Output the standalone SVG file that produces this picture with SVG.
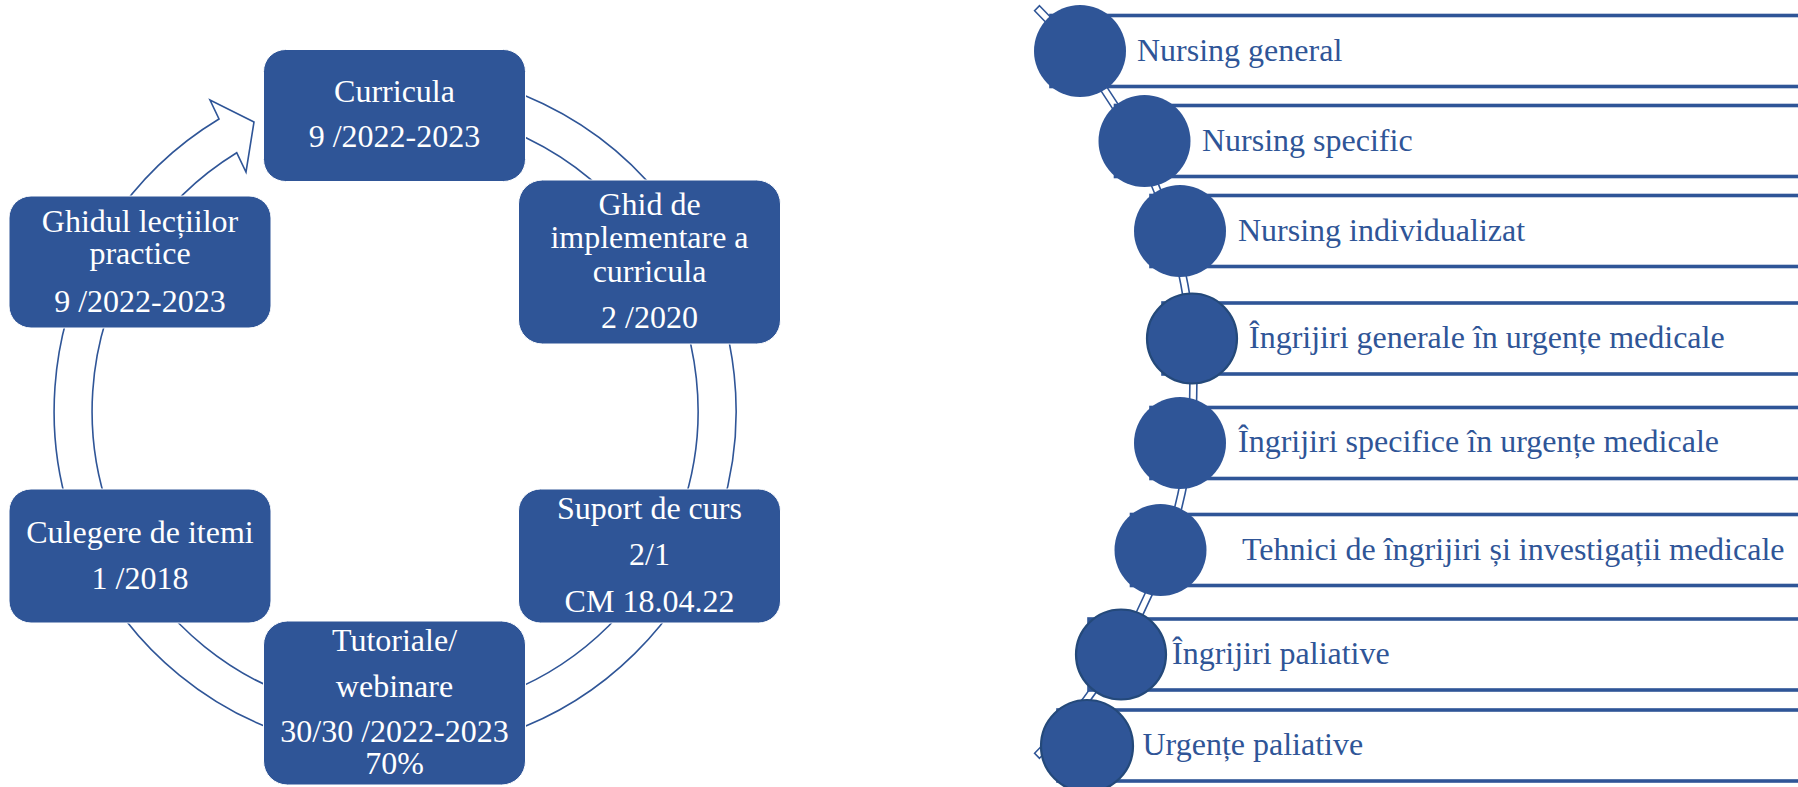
<svg xmlns="http://www.w3.org/2000/svg" width="1798" height="787" viewBox="0 0 1798 787">
<style>
.box{fill:#2F5597;stroke:#ffffff;stroke-width:1}
.bt{font-family:"Liberation Serif","Times New Roman",serif;font-size:32px;fill:#ffffff;text-anchor:middle}
.ring{fill:#ffffff;stroke:#2F5597;stroke-width:1.6}
.bar{fill:#ffffff;stroke:#2F5597;stroke-width:3.6}
.dot{fill:#2F5597}
.dot2{fill:#2F5597;stroke:#24497A;stroke-width:2.2}
.lt{font-family:"Liberation Serif","Times New Roman",serif;font-size:32px;fill:#2F5597}
</style>
<rect width="1798" height="787" fill="#ffffff"/>

<g id="connectors">
  <path id="cycle-arrow" class="ring" d="M 395,70 A 341 341 0 1 1 219,119 L 210,100 L 254,122 L 246,172 L 236.7,152.7 A 303 303 0 1 0 395,108 Z"/>
  <path id="list-arc" class="ring" d="M 1039.5,5.7 A 528.5 528.5 0 0 1 1039.5,758.3 L 1034.6,753.3 A 521.5 521.5 0 0 0 1034.6,10.7 Z"/>
</g>

<g id="curricula">
  <rect class="box" x="263.5" y="49.5" width="262" height="132" rx="22"/>
  <text class="bt" x="394.5" y="102">Curricula</text>
  <text class="bt" x="394.5" y="147">9 /2022-2023</text>
</g>
<g id="ghid-implementare">
  <rect class="box" x="518.5" y="180" width="262" height="164" rx="24"/>
  <text class="bt" x="649.5" y="215">Ghid de</text>
  <text class="bt" x="649.5" y="248">implementare a</text>
  <text class="bt" x="649.5" y="282">curricula</text>
  <text class="bt" x="649.5" y="328">2 /2020</text>
</g>
<g id="suport-curs">
  <rect class="box" x="518.5" y="489" width="262" height="134" rx="22"/>
  <text class="bt" x="649.5" y="519">Suport de curs</text>
  <text class="bt" x="649.5" y="565">2/1</text>
  <text class="bt" x="649.5" y="612">CM 18.04.22</text>
</g>
<g id="tutoriale">
  <rect class="box" x="263.5" y="621" width="262" height="164" rx="24"/>
  <text class="bt" x="394.5" y="651">Tutoriale/</text>
  <text class="bt" x="394.5" y="697">webinare</text>
  <text class="bt" x="394.5" y="742">30/30 /2022-2023</text>
  <text class="bt" x="394.5" y="774">70%</text>
</g>
<g id="culegere">
  <rect class="box" x="9" y="489" width="262" height="134" rx="22"/>
  <text class="bt" x="140" y="543">Culegere de itemi</text>
  <text class="bt" x="140" y="589">1 /2018</text>
</g>
<g id="ghidul-lectiilor">
  <rect class="box" x="9" y="196" width="262" height="132" rx="22"/>
  <text class="bt" x="140" y="232">Ghidul lecțiilor</text>
  <text class="bt" x="140" y="264">practice</text>
  <text class="bt" x="140" y="312">9 /2022-2023</text>
</g>

<g id="item-nursing-general">
  <rect class="bar" x="1051" y="15.5" width="760" height="71"/>
  <circle class="dot" cx="1080" cy="51" r="46"/>
  <text class="lt" x="1137" y="61">Nursing general</text>
</g>
<g id="item-nursing-specific">
  <rect class="bar" x="1115.5" y="105.5" width="700" height="71"/>
  <circle class="dot" cx="1144.5" cy="141" r="46"/>
  <text class="lt" x="1202" y="151">Nursing specific</text>
</g>
<g id="item-nursing-individualizat">
  <rect class="bar" x="1151" y="195.5" width="660" height="71"/>
  <circle class="dot" cx="1180" cy="231" r="46"/>
  <text class="lt" x="1238" y="241">Nursing individualizat</text>
</g>
<g id="item-ingrijiri-generale">
  <rect class="bar" x="1163" y="303" width="650" height="71"/>
  <circle class="dot2" cx="1192" cy="338.5" r="45"/>
  <text class="lt" x="1249" y="348">Îngrijiri generale în urgențe medicale</text>
</g>
<g id="item-ingrijiri-specifice">
  <rect class="bar" x="1151" y="407.5" width="660" height="71"/>
  <circle class="dot" cx="1180" cy="443" r="46"/>
  <text class="lt" x="1238" y="452">Îngrijiri specifice în urgențe medicale</text>
</g>
<g id="item-tehnici">
  <rect class="bar" x="1131.5" y="514.5" width="680" height="71"/>
  <circle class="dot" cx="1160.5" cy="550" r="46"/>
  <text class="lt" x="1242" y="560">Tehnici de îngrijiri și investigații medicale</text>
</g>
<g id="item-ingrijiri-paliative">
  <rect class="bar" x="1089" y="619" width="720" height="71"/>
  <circle class="dot2" cx="1121" cy="654.5" r="45"/>
  <text class="lt" x="1172" y="664">Îngrijiri paliative</text>
</g>
<g id="item-urgente-paliative">
  <rect class="bar" x="1058" y="710" width="760" height="71"/>
  <circle class="dot2" cx="1087" cy="746" r="46"/>
  <text class="lt" x="1142.5" y="755">Urgențe paliative</text>
</g>
</svg>
